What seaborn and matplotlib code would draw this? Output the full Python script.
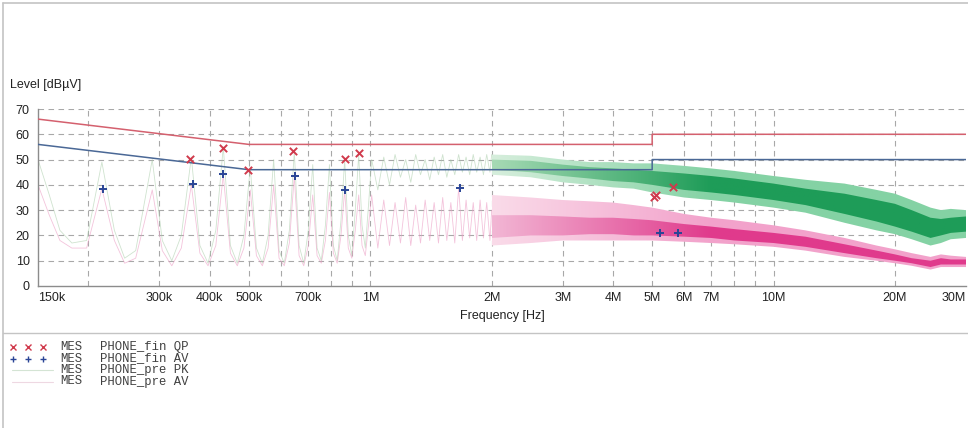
import numpy as np
import pandas as pd
import matplotlib
matplotlib.use("Agg")
import matplotlib.pyplot as plt
from matplotlib.lines import Line2D
from matplotlib.patches import PathPatch
from matplotlib.ticker import FixedLocator, NullFormatter
from matplotlib.colors import LinearSegmentedColormap
import seaborn as sns

# ---------------- data ----------------
# limit lines (frequency in kHz, level in dBuV)
lim_f_khz = [150, 500, 5000, 5000, 30000]
qp_limit = [66, 56, 56, 60, 60]
av_limit = [56, 46, 46, 50, 50]

# final measurements
qp_f_khz = [357, 431, 498, 645, 867, 940, 5050, 5100, 5640]
qp_val = [50.3, 54.7, 46.0, 53.2, 50.2, 52.5, 35.3, 36.0, 39.2]
av_f_khz = [218, 363, 431, 651, 867, 1665, 5240, 5790]
av_val = [38.5, 40.2, 44.2, 43.6, 38.1, 38.8, 21.0, 20.8]

# pre-scan traces, low frequency part (kHz)
pre_f_khz = [150, 160, 170, 182, 198, 216, 232, 246, 262, 288, 305, 322, 340, 360,
             378, 396, 414, 432, 450, 468, 486, 504, 522, 540, 558, 576, 594, 612,
             630, 648, 666, 684, 702, 720, 738, 756, 774, 792, 810, 828, 846, 864,
             882, 900, 918, 936, 954, 972, 990, 1008, 1044, 1080, 1116, 1152, 1188,
             1224, 1260, 1296, 1332, 1368, 1404, 1440, 1476, 1512, 1548, 1584, 1620,
             1656, 1692, 1728, 1764, 1800, 1836, 1872, 1908, 1944, 1980, 2000]
pre_pk = [50, 36, 22, 17, 18, 49, 22, 11, 14, 50, 18, 10, 20, 51,
          16, 9, 22, 55, 16, 9, 20, 47, 15, 9, 20, 50, 14, 9,
          22, 53, 16, 9, 22, 48, 15, 10, 24, 48, 16, 10, 26, 50,
          20, 12, 30, 52, 24, 15, 32, 50, 38, 51, 40, 52, 43,
          50, 41, 52, 44, 50, 42, 51, 44, 52, 43, 50, 44,
          52, 45, 51, 44, 52, 45, 51, 44, 52, 45, 52]
pre_av = [40, 28, 18, 15, 15, 38.5, 18, 9, 11, 38, 14, 8, 15, 40,
          13, 8, 16, 44, 13, 8, 15, 38, 12, 8, 15, 40, 11, 8,
          17, 43.5, 12, 8, 16, 36, 12, 9, 18, 37, 13, 9, 20, 38,
          15, 11, 22, 36, 16, 12, 24, 36, 15, 34, 16, 33, 17,
          35, 16, 32, 17, 34, 18, 33, 17, 35, 18, 33, 17,
          38.8, 18, 34, 19, 33, 18, 34, 19, 33, 18, 30]

# pre-scan traces, dense part: envelopes (MHz)
band_f_mhz = [2.0, 2.5, 3.0, 3.5, 4.0, 4.5, 5.0, 6.0, 7.0, 8.0, 10, 12, 15, 18, 20,
              22, 24.5, 26, 27.5, 30]
pk_hi = [52, 51.5, 50, 49, 49, 48.5, 48.5, 47.5, 46.5, 45.5, 43.5, 42, 40.5, 38, 36.5,
         34, 31, 30, 30.5, 30]
pk_lo = [44, 43, 41, 40, 39, 38.5, 37, 35, 34, 33, 31, 29, 25, 22, 20.5,
         18.5, 16, 17, 18.5, 19]
pk_core_hi = [50, 49.5, 48, 47, 46.5, 46, 45.5, 44.5, 43.5, 42.5, 40.5, 38.5, 36.5, 34,
              32.5, 30, 27, 26.5, 27, 27.5]
pk_core_lo = [46, 45, 43.5, 42.5, 41.5, 41, 40, 38, 37, 36, 34, 32, 28.5, 25.5, 23.5,
              21.5, 19, 20, 21, 21.5]
av_hi = [36, 35, 34, 33.5, 33, 32, 31, 28.5, 27, 26, 24, 22, 19, 16, 14.5,
         13, 11.5, 12.5, 12, 11.5]
av_lo = [16, 17, 18, 18, 18, 18, 18, 17.5, 17, 16.5, 15.5, 14, 11.5, 10, 9,
         8, 6.5, 7.5, 7.5, 7.5]
av_core_hi = [28, 28, 27.5, 27, 27, 26.5, 26, 24.5, 23.5, 22.5, 21, 19.5, 16.5, 14, 12.5,
              11, 10, 11, 10.5, 10.5]
av_core_lo = [19, 20, 20, 20.5, 20.5, 20, 20, 19.5, 19, 18, 17, 15.5, 13, 11, 10,
              9, 7.5, 8.5, 8.5, 8.5]

# axis ticks
tick_f_khz = [150, 300, 400, 500, 700, 1000, 2000, 3000, 4000, 5000, 6000, 7000,
              10000, 20000, 30000]
tick_labels = ["150k", "300k", "400k", "500k", "700k", "1M", "2M", "3M", "4M", "5M",
               "6M", "7M", "10M", "20M", "30M"]
minor_f_khz = [200, 600, 800, 900, 8000, 9000]
y_ticks = [0, 10, 20, 30, 40, 50, 60, 70]

legend_src = ["MES", "MES", "MES", "MES"]
legend_names = ["PHONE_fin QP", "PHONE_fin AV", "PHONE_pre PK", "PHONE_pre AV"]

# ---------------- style ----------------
sns.set_style("white")
plt.rcParams["font.family"] = ["Liberation Sans", "DejaVu Sans"]

W, H = 968, 428
fig = plt.figure(figsize=(W / 100, H / 100), dpi=100)
x0, x1, yb, yt = 38, 966, 286, 109
ax = fig.add_axes([x0 / W, 1 - yb / H, (x1 - x0) / W, (yb - yt) / H])
ax.set_xscale("log")
ax.set_xlim(150e3, 30e6)
ax.set_ylim(0, 70)

RED = "#d4606e"
BLUE = "#4a6896"

hz = lambda lst: [v * 1e3 for v in lst]
mhz = lambda lst: [v * 1e6 for v in lst]

# low-frequency pre-scan traces
pre_df = pd.DataFrame({"f": hz(pre_f_khz), "pk": pre_pk, "av": pre_av})
sns.lineplot(data=pre_df, x="f", y="pk", ax=ax, color="#a8cca8", lw=0.6, alpha=0.55,
             estimator=None, sort=False, zorder=2)
sns.lineplot(data=pre_df, x="f", y="av", ax=ax, color="#ec9cc4", lw=0.6, alpha=0.6,
             estimator=None, sort=False, zorder=2)

# dense part: envelope bands shaded progressively darker (denser) with frequency
bf = np.array(mhz(band_f_mhz))
# shading ramp (style only): image columns are linear in frequency, ramp is log-based
col_f = np.linspace(bf[0], bf[-1], 2048)
ramp = np.clip(np.log10(col_f / bf[0]) / np.log10(7e6 / bf[0]), 0, 1)[None, :]


def dense_band(lo, hi, c0, c1, z):
    poly = ax.fill_between(bf, lo, hi, facecolor="none", edgecolor="none", lw=0, zorder=z)
    patch = PathPatch(poly.get_paths()[0], transform=ax.transData,
                      facecolor="none", edgecolor="none", lw=0)
    ax.add_patch(patch)
    cmap = LinearSegmentedColormap.from_list("band", [c0, c1])
    img = ax.imshow(ramp, extent=[bf[0], bf[-1], 0, 70], aspect="auto", cmap=cmap,
                    vmin=0, vmax=1, origin="lower", interpolation="bilinear", zorder=z)
    img.set_clip_path(patch)


dense_band(pk_lo, pk_hi, "#d6eedc", "#84d2a4", 2.0)
dense_band(pk_core_lo, pk_core_hi, "#a6dab4", "#1e9c58", 2.1)
dense_band(av_lo, av_hi, "#fadbe9", "#f2a2cb", 2.0)
dense_band(av_core_lo, av_core_hi, "#f2b6d4", "#e03a8c", 2.1)

# limit lines
lim_df = pd.DataFrame({"f": hz(lim_f_khz), "qp": qp_limit, "av": av_limit})
sns.lineplot(data=lim_df, x="f", y="qp", ax=ax, color=RED, lw=1.1,
             estimator=None, sort=False, zorder=4)
sns.lineplot(data=lim_df, x="f", y="av", ax=ax, color=BLUE, lw=1.1,
             estimator=None, sort=False, zorder=4)

# final markers
sns.scatterplot(x=hz(qp_f_khz), y=qp_val, ax=ax, marker="x", color="#d03a4c", s=28,
                linewidth=1.4, zorder=5)
sns.scatterplot(x=hz(av_f_khz), y=av_val, ax=ax, marker="+", color="#2a4596", s=40,
                linewidth=1.4, zorder=5)

# axes
ax.set_xlim(150e3, 30e6)
ax.set_ylim(0, 70)
ax.set_aspect("auto")
ax.xaxis.set_major_locator(FixedLocator(hz(tick_f_khz)))
ax.set_xticklabels(tick_labels)
ax.xaxis.set_minor_locator(FixedLocator(hz(minor_f_khz)))
ax.xaxis.set_minor_formatter(NullFormatter())
ax.set_yticks(y_ticks)
ax.tick_params(axis="both", which="both", length=0, labelsize=9, colors="#222222")
ax.tick_params(axis="x", pad=4)
ax.tick_params(axis="y", pad=6)
for lab in ax.get_xticklabels():
    if lab.get_text() == "150k":
        lab.set_horizontalalignment("left")
    elif lab.get_text() == "30M":
        lab.set_horizontalalignment("right")

grid_kw = dict(color="#a8a8a8", lw=0.8, linestyle=(0, (5, 4)))
ax.grid(True, axis="x", which="both", **grid_kw)
ax.grid(True, axis="y", which="major", **grid_kw)
gl = ax.xaxis.get_gridlines()
gl[0].set_visible(False)
gl[-1].set_visible(False)
ax.yaxis.get_gridlines()[0].set_visible(False)
ax.set_axisbelow(True)

for s in ["top", "right"]:
    ax.spines[s].set_visible(False)
for s in ["left", "bottom"]:
    ax.spines[s].set_color("#8c8c8c")
    ax.spines[s].set_linewidth(1.0)

ax.set_xlabel("Frequency [Hz]", fontsize=9, color="#222222", labelpad=5)
ax.set_ylabel("")
fig.text(10 / W, 1 - 85 / H, "Level [dBµV]", fontsize=9, color="#222222",
         ha="left", va="center")

# frame lines
fc = "#c4c4c4"
fig.add_artist(Line2D([3 / W, 1], [1 - 3 / H, 1 - 3 / H], color=fc, lw=1.2))
fig.add_artist(Line2D([3 / W, 3 / W], [0, 1 - 3 / H], color=fc, lw=1.2))
fig.add_artist(Line2D([3 / W, 1], [1 - 333 / H, 1 - 333 / H], color=fc, lw=1.0))

# legend block
rows_y = [347, 358.5, 370, 381.5]
mono = ["Liberation Mono", "DejaVu Sans Mono"]
for i, (src, name) in enumerate(zip(legend_src, legend_names)):
    yy = 1 - rows_y[i] / H
    if i == 0:
        fig.add_artist(Line2D([13 / W, 28 / W, 43 / W], [yy] * 3, lw=0, marker="x",
                              markersize=4, markeredgewidth=1.0, color="#d03a4c"))
    elif i == 1:
        fig.add_artist(Line2D([13 / W, 28 / W, 43 / W], [yy] * 3, lw=0, marker="+",
                              markersize=5, markeredgewidth=1.0, color="#2a4596"))
    elif i == 2:
        fig.add_artist(Line2D([12 / W, 53 / W], [yy, yy], lw=0.8, color="#d4e4d4"))
    else:
        fig.add_artist(Line2D([12 / W, 53 / W], [yy, yy], lw=0.8, color="#eed8e2"))
    fig.text(60 / W, yy, src, family=mono, fontsize=8.8, color="#404040",
             ha="left", va="center")
    fig.text(100 / W, yy, name, family=mono, fontsize=8.8, color="#404040",
             ha="left", va="center")

fig.savefig("out.png", dpi=100, facecolor="white")
